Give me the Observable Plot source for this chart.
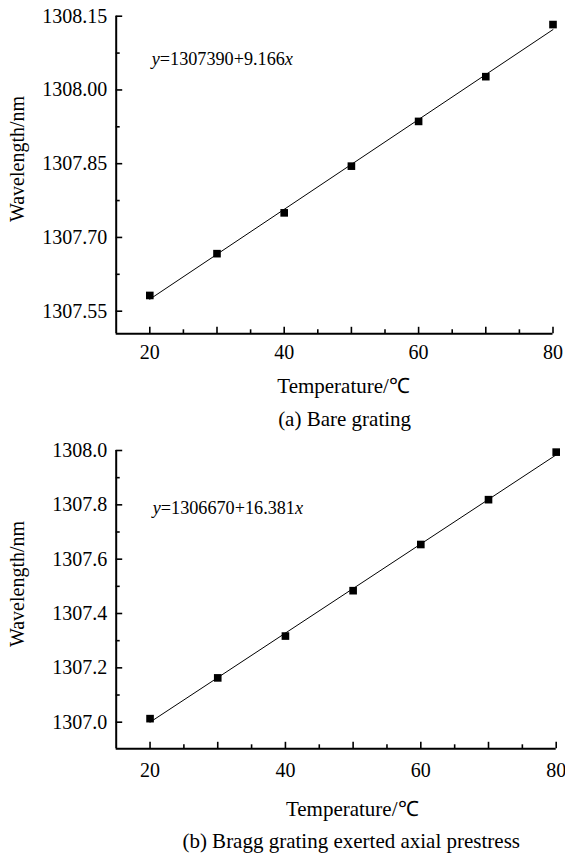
<!DOCTYPE html>
<html>
<head>
<meta charset="utf-8">
<script src="https://cdn.jsdelivr.net/npm/d3@7"></script>
<script src="https://cdn.jsdelivr.net/npm/@observablehq/plot@0.6"></script>
<style>
  html, body { margin: 0; padding: 0; background: white; }
  #chart { position: relative; width: 565px; }
  #chart svg { display: block; }
  #chart svg, #chart svg text { font-family: "Liberation Serif", serif !important; }
  .ylabel {
    position: absolute; left: 17px; white-space: nowrap;
    font-family: "Liberation Serif", serif; font-size: 20px; line-height: 1; color: black;
    transform: translate(-50%, -50%) rotate(-90deg);
  }
</style>
</head>
<body>
<div id="chart"></div>
<script>
// ---- data ----
const temperatures = [20, 30, 40, 50, 60, 70, 80];
const bareWavelength = [1307.582, 1307.667, 1307.750, 1307.845, 1307.936, 1308.027, 1308.133];
const prestressWavelength = [1307.013, 1307.163, 1307.317, 1307.484, 1307.654, 1307.819, 1307.994];

// ---- ticks & labels ----
const xMajorTicks = [20, 30, 40, 50, 60, 70, 80];
const xMinorTicks = [25, 35, 45, 55, 65, 75];
const xLabelTicks = [20, 40, 60, 80];
const bareYTicks = [1307.55, 1307.70, 1307.85, 1308.00, 1308.15];
const bareYMinor = [1307.625, 1307.775, 1307.925, 1308.075];
const preYTicks = [1307.0, 1307.2, 1307.4, 1307.6, 1307.8, 1308.0];
const preYMinor = [1307.1, 1307.3, 1307.5, 1307.7, 1307.9];
const xLabel = "Temperature/\u2103";
const yLabel = "Wavelength/nm";
const bareEquation = "y=1307390+9.166x";
const preEquation = "y=1306670+16.381x";
const bareCaption = "(a) Bare grating";
const preCaption = "(b) Bragg grating exerted axial prestress";

const FONT = "Liberation Serif, serif";

function makeChart(cfg) {
  const data = temperatures.map((t, i) => ({t, w: cfg.values[i]}));
  const frameW = cfg.width - cfg.marginLeft - cfg.marginRight;
  const frameH = cfg.height - cfg.marginTop - cfg.marginBottom;
  const svg = Plot.plot({
    width: cfg.width,
    height: cfg.height,
    marginTop: cfg.marginTop,
    marginBottom: cfg.marginBottom,
    marginLeft: cfg.marginLeft,
    marginRight: cfg.marginRight,
    style: {fontFamily: FONT, fontSize: "20px", color: "black", background: "white"},
    x: {domain: cfg.xDomain},
    y: {domain: cfg.yDomain},
    marks: [
      Plot.ruleX([cfg.xDomain[0]], {stroke: "black", strokeWidth: 2}),
      Plot.ruleY([cfg.yDomain[0]], {stroke: "black", strokeWidth: 2}),
      Plot.tickX(xMajorTicks, {x: d => d, stroke: "black", strokeWidth: 1.6, insetTop: frameH - 6.5}),
      Plot.tickX(xMinorTicks, {x: d => d, stroke: "black", strokeWidth: 1.6, insetTop: frameH - 4}),
      Plot.tickY(cfg.yTicks, {y: d => d, stroke: "black", strokeWidth: 1.6, insetRight: frameW - 6.5}),
      Plot.tickY(cfg.yMinor, {y: d => d, stroke: "black", strokeWidth: 1.6, insetRight: frameW - 4}),
      Plot.axisX({ticks: xLabelTicks, tickSize: 0, tickPadding: cfg.xPad, label: null, fontSize: 20, tickFormat: d3.format("d")}),
      Plot.axisY({ticks: cfg.yTicks, tickSize: 0, tickPadding: 9, label: null, fontSize: 20, tickFormat: d3.format(cfg.yFmt)}),
      Plot.linearRegressionY(data, {x: "t", y: "w", ci: 0, stroke: "black", strokeWidth: 1}),
      Plot.dot(data, {x: "t", y: "w", symbol: "square", r: 4.3, fill: "black", stroke: "none"}),
      Plot.text([cfg.equation], {frameAnchor: "top-left", textAnchor: "start", lineAnchor: "middle", dx: cfg.eqDx, dy: cfg.eqDy, fontSize: 18.2, fill: "black"}),
      Plot.text([xLabel], {frameAnchor: "bottom", textAnchor: "middle", lineAnchor: "middle", dx: cfg.xLabelDx, dy: cfg.xLabelDy, fontSize: 21, fill: "black"}),
      Plot.text([cfg.caption], {frameAnchor: "bottom", textAnchor: "middle", lineAnchor: "middle", dx: cfg.capDx, dy: cfg.capDy, fontSize: 21, fill: "black"})
    ]
  });
  for (const t of svg.querySelectorAll("text")) {
    if (t.textContent === cfg.equation) {
      const s = cfg.equation;
      t.textContent = "";
      const ns = "http://www.w3.org/2000/svg";
      const a = document.createElementNS(ns, "tspan");
      a.setAttribute("font-style", "italic");
      a.textContent = s[0];
      const b = document.createElementNS(ns, "tspan");
      b.textContent = s.slice(1, -1);
      const c = document.createElementNS(ns, "tspan");
      c.setAttribute("font-style", "italic");
      c.textContent = s[s.length - 1];
      t.append(a, b, c);
    }
  }
  return svg;
}

const chartA = makeChart({
  values: bareWavelength,
  width: 565, height: 432,
  marginTop: 15.7, marginBottom: 98.7, marginLeft: 115.7, marginRight: 12.5,
  xDomain: [15, 80], yDomain: [1307.504, 1308.15],
  yTicks: bareYTicks, yMinor: bareYMinor, yFmt: ".2f",
  xPad: 11,
  equation: bareEquation, eqDx: 35.5, eqDy: 42.5,
  xLabelDx: 9, xLabelDy: 52,
  caption: bareCaption, capDx: 10, capDy: 85
});

const chartB = makeChart({
  values: prestressWavelength,
  width: 565, height: 428,
  marginTop: 18, marginBottom: 111.7, marginLeft: 115.7, marginRight: 9.3,
  xDomain: [15, 80], yDomain: [1306.902, 1308.0],
  yTicks: preYTicks, yMinor: preYMinor, yFmt: ".1f",
  xPad: 14,
  equation: preEquation, eqDx: 36.5, eqDy: 58,
  xLabelDx: 16, xLabelDy: 60,
  caption: preCaption, capDx: 15, capDy: 92
});

const chart = document.getElementById("chart");
chart.append(chartA, chartB);

// rotated y-axis titles (HTML, beside each SVG)
const yLabelCenters = [159, 584];
for (const cy of yLabelCenters) {
  const d = document.createElement("div");
  d.className = "ylabel";
  d.style.top = cy + "px";
  d.textContent = yLabel;
  chart.append(d);
}
</script>
</body>
</html>
